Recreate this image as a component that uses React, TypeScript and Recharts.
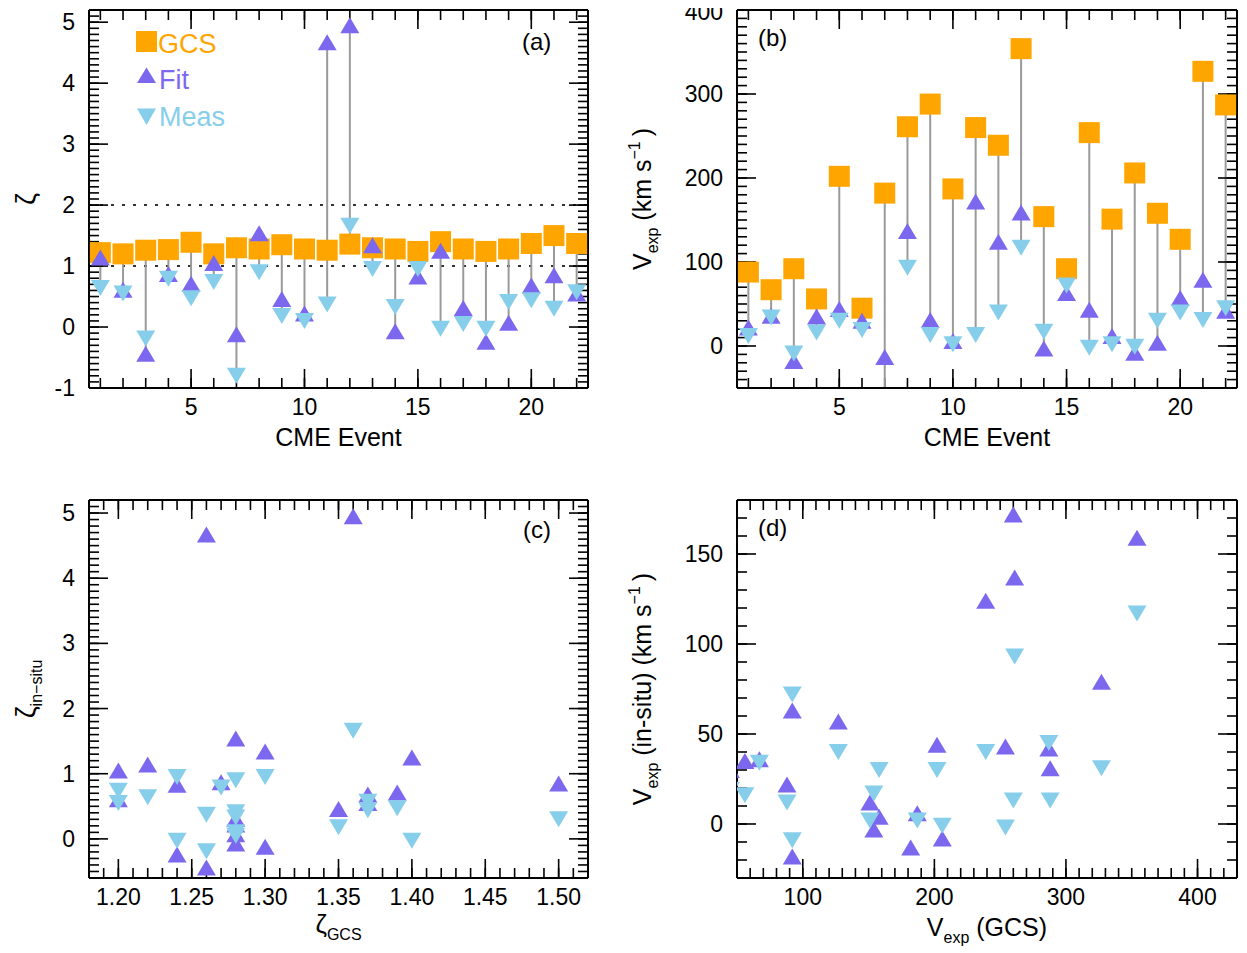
import React from 'react';
import { ScatterChart, Scatter, XAxis, YAxis, ErrorBar, ReferenceLine } from 'recharts';

// ---------------- data ----------------
const events = [1, 2, 3, 4, 5, 6, 7, 8, 9, 10, 11, 12, 13, 14, 15, 16, 17, 18, 19, 20, 21, 22];
const zetaGcs = [1.22, 1.2, 1.26, 1.27, 1.39, 1.2, 1.3, 1.28, 1.35, 1.28, 1.26, 1.36, 1.3, 1.28, 1.24, 1.4, 1.28, 1.24, 1.28, 1.37, 1.5, 1.37];
const zetaFit = [1.14, 0.61, -0.44, 0.87, 0.71, 1.05, -0.12, 1.54, 0.46, 0.22, 4.67, 4.95, 1.34, -0.07, 0.83, 1.25, 0.31, -0.24, 0.07, 0.68, 0.85, 0.55];
const zetaMeas = [0.64, 0.55, -0.19, 0.79, 0.47, 0.74, -0.8, 0.9, 0.18, 0.1, 0.37, 1.66, 0.95, 0.33, 0.95, -0.03, 0.05, -0.03, 0.41, 0.44, 0.3, 0.57];
const vGcs = [88, 67, 92, 56, 202, 45, 182, 261, 288, 187, 260, 239, 354, 154, 92, 254, 151, 206, 158, 127, 327, 287];
const vFit = [22, 36, -18, 35, 44, 30, -13, 137, 31, 6, 172, 124, 159, -3, 63, 43, 12, -8, 4, 57, 79, 42];
const vMeas = [12, 34, -9, 16, 30, 19, -60, 93, 13, 2, 13, 40, 117, 17, 72, -2, 2, -1, 30, 40, 31, 45];

const eventTicks = [5, 10, 15, 20];
const zetaTicks = [-1, 0, 1, 2, 3, 4, 5];
const vTicks = [0, 100, 200, 300, 400];
const zetaGcsTicks = [1.2, 1.25, 1.3, 1.35, 1.4, 1.45, 1.5];
const zetaInsituTicks = [0, 1, 2, 3, 4, 5];
const vGcsTicks = [100, 200, 300, 400];
const vInsituTicks = [0, 50, 100, 150];

// ---------------- style ----------------
const FONT = '"Liberation Sans", Arial, Helvetica, sans-serif';
const ORANGE = '#FFA500';
const PURPLE = '#7B68EE';
const SKY = '#87CEEB';
const STEM = '#9a9a9a';
const TICK_FS = 23;
const TITLE_FS = 25;
const SUB_FS = 16;
const THIN = 0.01;
const PLOT_H = 378;
const MAJOR_LEN = 19;
const MINOR_LEN = 10;

function range(start: number, end: number, step: number) {
  const out: number[] = [];
  const n = Math.round((end - start) / step);
  for (let i = 0; i <= n; i++) out.push(+(start + i * step).toFixed(4));
  return out;
}

// ---------------- derived tables ----------------
const tsA = events.map((e, i) => {
  const lo = Math.min(zetaGcs[i], zetaFit[i], zetaMeas[i]);
  const hi = Math.max(zetaGcs[i], zetaFit[i], zetaMeas[i]);
  return { x: e, y: zetaGcs[i], err: [zetaGcs[i] - lo, hi - zetaGcs[i]] };
});
const fitA = events.map((e, i) => ({ x: e, y: zetaFit[i] }));
const measA = events.map((e, i) => ({ x: e, y: zetaMeas[i] }));

const tsB = events.map((e, i) => {
  const lo = Math.max(Math.min(vGcs[i], vFit[i], vMeas[i]), -50);
  const hi = Math.max(vGcs[i], vFit[i], vMeas[i]);
  return { x: e, y: vGcs[i], err: [vGcs[i] - lo, hi - vGcs[i]] };
});
const fitB = events.map((e, i) => ({ x: e, y: vFit[i] }));
const measB = events.map((e, i) => ({ x: e, y: vMeas[i] }));

const fitC = events.map((e, i) => ({ x: zetaGcs[i], y: zetaFit[i] }));
const measC = events.map((e, i) => ({ x: zetaGcs[i], y: zetaMeas[i] }));
const fitD = events.map((e, i) => ({ x: vGcs[i], y: vFit[i] }));
const measD = events.map((e, i) => ({ x: vGcs[i], y: vMeas[i] }));

// ---------------- shapes ----------------
const SquareShape = (p: any) => (
  <rect x={p.cx - 10.5} y={p.cy - 10.5} width={21} height={21} fill={ORANGE} />
);
const TriUp = (p: any) => (
  <polygon
    points={`${p.cx - 9.5},${p.cy + 8} ${p.cx + 9.5},${p.cy + 8} ${p.cx},${p.cy - 8}`}
    fill={PURPLE}
  />
);
const TriDown = (p: any) => (
  <polygon
    points={`${p.cx - 9.5},${p.cy - 8} ${p.cx + 9.5},${p.cy - 8} ${p.cx},${p.cy + 8}`}
    fill={SKY}
  />
);

// y tick label: keeps a label that sits on the top edge fully inside the page
const YTick = (p: any) => {
  const yy = Math.max(p.y, 12);
  return (
    <text x={p.x} y={yy} dy="0.35em" textAnchor="end" fontSize={TICK_FS} fontFamily={FONT} fill="#000">
      {String(p.payload.value)}
    </text>
  );
};

// ---------------- axes frame ----------------
type FrameCfg = {
  xDomain: [number, number];
  yDomain: [number, number];
  xMajor: number[];
  xMinor: number[];
  yMajor: number[];
  yMinor: number[];
  xFmt?: (v: number) => string;
  xTitle: (props: any) => any;
  yTitle: (props: any) => any;
};

const tickText = { fill: '#000', fontSize: TICK_FS, fontFamily: FONT };
const axisLineStyle = { stroke: '#000', strokeWidth: 2 };
const tickLineStyle = { stroke: '#000', strokeWidth: 1.6 };
const blank = () => '';

function tickAxesY(id: string, orientation: 'left' | 'right', domain: [number, number], ticks: number[], size: number, line: boolean) {
  return (
    <YAxis key={id} yAxisId={id} type="number" orientation={orientation} domain={domain}
      allowDataOverflow ticks={ticks} interval={0} mirror tickSize={size} tickMargin={0}
      width={THIN} axisLine={line ? axisLineStyle : false} tickLine={tickLineStyle}
      tickFormatter={blank} tick={{ fontSize: 1, fill: 'none' }} stroke="#000" />
  );
}

// x-direction tick marks along bottom and top edges, placed through the chart's scales
function xTickMarks(c: FrameCfg) {
  const [y0, y1] = c.yDomain;
  const span = y1 - y0;
  const out: any[] = [];
  const add = (list: number[], len: number, tag: string) => {
    const d = (len / PLOT_H) * span;
    list.forEach((t) => {
      out.push(
        <ReferenceLine key={`b${tag}${t}`} xAxisId="xl" yAxisId="yl" ifOverflow="visible"
          segment={[{ x: t, y: y0 }, { x: t, y: y0 + d }]} stroke="#000" strokeWidth={1.6} />,
      );
      out.push(
        <ReferenceLine key={`t${tag}${t}`} xAxisId="xl" yAxisId="yl" ifOverflow="visible"
          segment={[{ x: t, y: y1 }, { x: t, y: y1 - d }]} stroke="#000" strokeWidth={1.6} />,
      );
    });
  };
  add(c.xMinor, MINOR_LEN, 'm');
  add(c.xMajor, MAJOR_LEN, 'M');
  return out;
}

function frame(c: FrameCfg) {
  return [
    <XAxis key="xl" xAxisId="xl" type="number" dataKey="x" orientation="bottom" domain={c.xDomain}
      allowDataOverflow ticks={c.xMajor} interval={0} tickFormatter={c.xFmt} tickSize={0} tickMargin={11}
      height={THIN} axisLine={axisLineStyle} tickLine={false} tick={tickText}
      label={{ content: c.xTitle }} />,
    <XAxis key="xtM" xAxisId="xtM" type="number" orientation="top" domain={c.xDomain}
      allowDataOverflow ticks={c.xMajor} interval={0} mirror tickSize={0} height={THIN}
      axisLine={axisLineStyle} tickLine={false} tickFormatter={blank} tick={{ fontSize: 1, fill: 'none' }} />,
    <YAxis key="yl" yAxisId="yl" type="number" dataKey="y" orientation="left" domain={c.yDomain}
      allowDataOverflow ticks={c.yMajor} interval={0} tickSize={0} tickMargin={14}
      width={THIN} axisLine={axisLineStyle} tickLine={false} tick={YTick}
      label={{ content: c.yTitle }} />,
    tickAxesY('ylM', 'left', c.yDomain, c.yMajor, MAJOR_LEN, false),
    tickAxesY('ylm', 'left', c.yDomain, c.yMinor, MINOR_LEN, false),
    tickAxesY('yrM', 'right', c.yDomain, c.yMajor, MAJOR_LEN, true),
    tickAxesY('yrm', 'right', c.yDomain, c.yMinor, MINOR_LEN, false),
    ...xTickMarks(c),
  ];
}

// ---------------- titles ----------------
const xTitlePlain = (text: string, dy: number) => (props: any) => {
  const vb = props.viewBox || {};
  return (
    <text x={vb.x + vb.width / 2} y={vb.y + dy} textAnchor="middle" fontSize={TITLE_FS}
      fontFamily={FONT} fill="#000">{text}</text>
  );
};

const xTitleZetaGcs = (props: any) => {
  const vb = props.viewBox || {};
  return (
    <text x={vb.x + vb.width / 2} y={vb.y + 55} textAnchor="middle" fontSize={TITLE_FS + 1}
      fontFamily={FONT} fill="#000">
      ζ<tspan fontSize={SUB_FS} dy={7}>GCS</tspan>
    </text>
  );
};

const xTitleVGcs = (props: any) => {
  const vb = props.viewBox || {};
  return (
    <text x={vb.x + vb.width / 2} y={vb.y + 58} textAnchor="middle" fontSize={TITLE_FS}
      fontFamily={FONT} fill="#000">
      V<tspan fontSize={SUB_FS} dy={7}>exp</tspan>
      <tspan dy={-7}> (GCS)</tspan>
    </text>
  );
};

const yTitleZeta = (props: any) => {
  const vb = props.viewBox || {};
  const x = vb.x + vb.width - 54;
  const y = vb.y + vb.height / 2;
  return (
    <text x={x} y={y} transform={`rotate(-90, ${x}, ${y})`} textAnchor="middle" fontSize={TITLE_FS + 2}
      fontFamily={FONT} fill="#000">ζ</text>
  );
};

const yTitleZetaInsitu = (props: any) => {
  const vb = props.viewBox || {};
  const x = vb.x + vb.width - 54;
  const y = vb.y + vb.height / 2;
  return (
    <text x={x} y={y} transform={`rotate(-90, ${x}, ${y})`} textAnchor="middle" fontSize={TITLE_FS + 2}
      fontFamily={FONT} fill="#000">
      ζ<tspan fontSize={SUB_FS} dy={7}>in−situ</tspan>
    </text>
  );
};

const yTitleV = (mid: string) => (props: any) => {
  const vb = props.viewBox || {};
  const x = vb.x + vb.width - 86;
  const y = vb.y + vb.height / 2;
  return (
    <text x={x} y={y} transform={`rotate(-90, ${x}, ${y})`} textAnchor="middle" fontSize={TITLE_FS}
      fontFamily={FONT} fill="#000">
      V<tspan fontSize={SUB_FS} dy={7}>exp</tspan>
      <tspan dy={-7}>{mid} (km s</tspan>
      <tspan fontSize={SUB_FS} dy={-11}>−1</tspan>
      <tspan dy={11}>{'\u2009)'}</tspan>
    </text>
  );
};

// ---------------- panels ----------------
const fmt2 = (v: number) => v.toFixed(2);

function PanelA() {
  return (
    <ScatterChart width={620} height={476} margin={{ top: 10, right: 32, bottom: 88, left: 89 }}>
      {frame({
        xDomain: [0.5, 22.5], yDomain: [-1, 5.2],
        xMajor: eventTicks, xMinor: events, yMajor: zetaTicks, yMinor: range(-1, 5.2, 0.1),
        xTitle: xTitlePlain('CME Event', 58), yTitle: yTitleZeta,
      })}
      <ReferenceLine xAxisId="xl" yAxisId="yl" y={1} stroke="#333" strokeWidth={2} strokeDasharray="3 8" />
      <ReferenceLine xAxisId="xl" yAxisId="yl" y={2} stroke="#333" strokeWidth={2} strokeDasharray="3 8" />
      <Scatter xAxisId="xl" yAxisId="yl" data={tsA} shape={SquareShape} isAnimationActive={false}>
        <ErrorBar dataKey="err" direction="y" width={0} stroke={STEM} strokeWidth={2} isAnimationActive={false} />
      </Scatter>
      <Scatter xAxisId="xl" yAxisId="yl" data={fitA} shape={TriUp} isAnimationActive={false} />
      <Scatter xAxisId="xl" yAxisId="yl" data={measA} shape={TriDown} isAnimationActive={false} />
    </ScatterChart>
  );
}

function PanelB() {
  return (
    <ScatterChart width={627} height={476} margin={{ top: 10, right: 10, bottom: 88, left: 117 }}>
      {frame({
        xDomain: [0.5, 22.5], yDomain: [-50, 400],
        xMajor: eventTicks, xMinor: events, yMajor: vTicks, yMinor: range(-50, 400, 10),
        xTitle: xTitlePlain('CME Event', 58), yTitle: yTitleV(''),
      })}
      <Scatter xAxisId="xl" yAxisId="yl" data={tsB} shape={SquareShape} isAnimationActive={false}>
        <ErrorBar dataKey="err" direction="y" width={0} stroke={STEM} strokeWidth={2} isAnimationActive={false} />
      </Scatter>
      <Scatter xAxisId="xl" yAxisId="yl" data={fitB} shape={TriUp} isAnimationActive={false} />
      <Scatter xAxisId="xl" yAxisId="yl" data={measB} shape={TriDown} isAnimationActive={false} />
    </ScatterChart>
  );
}

function PanelC() {
  return (
    <ScatterChart width={620} height={477} margin={{ top: 24, right: 32, bottom: 75, left: 89 }}>
      {frame({
        xDomain: [1.18, 1.52], yDomain: [-0.6, 5.2],
        xMajor: zetaGcsTicks, xMinor: range(1.18, 1.52, 0.01), yMajor: zetaInsituTicks, yMinor: range(-0.6, 5.2, 0.1),
        xFmt: fmt2, xTitle: xTitleZetaGcs, yTitle: yTitleZetaInsitu,
      })}
      <Scatter xAxisId="xl" yAxisId="yl" data={fitC} shape={TriUp} isAnimationActive={false} />
      <Scatter xAxisId="xl" yAxisId="yl" data={measC} shape={TriDown} isAnimationActive={false} />
    </ScatterChart>
  );
}

function PanelD() {
  return (
    <ScatterChart width={627} height={477} margin={{ top: 24, right: 10, bottom: 75, left: 117 }}>
      {frame({
        xDomain: [50, 430], yDomain: [-30, 180],
        xMajor: vGcsTicks, xMinor: range(50, 430, 10), yMajor: vInsituTicks, yMinor: range(-30, 180, 10),
        xTitle: xTitleVGcs, yTitle: yTitleV(' (in-situ)'),
      })}
      <Scatter xAxisId="xl" yAxisId="yl" data={fitD} shape={TriUp} isAnimationActive={false} />
      <Scatter xAxisId="xl" yAxisId="yl" data={measD} shape={TriDown} isAnimationActive={false} />
    </ScatterChart>
  );
}

// ---------------- overlay (legend + panel tags) ----------------
function Overlay() {
  const lf = { fontFamily: FONT, fontSize: 27 };
  const tag = { fontFamily: FONT, fontSize: 24, fill: '#000' };
  return (
    <svg width={1247} height={953} style={{ position: 'absolute', left: 0, top: 0, pointerEvents: 'none' }}>
      <rect x={136} y={31} width={21} height={21} fill={ORANGE} />
      <text x={158} y={53} fill={ORANGE} {...lf}>GCS</text>
      <polygon points="137,83 156,83 146.5,67.5" fill={PURPLE} />
      <text x={159} y={89} fill={PURPLE} {...lf}>Fit</text>
      <polygon points="137,108.5 156,108.5 146.5,125" fill={SKY} />
      <text x={159} y={126} fill={SKY} {...lf}>Meas</text>
      <text x={522} y={50} {...tag}>(a)</text>
      <text x={758} y={46} {...tag}>(b)</text>
      <text x={523} y={538} {...tag}>(c)</text>
      <text x={758} y={536} {...tag}>(d)</text>
    </svg>
  );
}

export default function App() {
  return (
    <div style={{ position: 'relative', left: -8, top: -8, width: 1247, height: 953, background: '#fff', overflow: 'hidden' }}>
      <div style={{ position: 'absolute', left: 0, top: 0 }}><PanelA /></div>
      <div style={{ position: 'absolute', left: 620, top: 0 }}><PanelB /></div>
      <div style={{ position: 'absolute', left: 0, top: 476 }}><PanelC /></div>
      <div style={{ position: 'absolute', left: 620, top: 476 }}><PanelD /></div>
      <Overlay />
    </div>
  );
}
